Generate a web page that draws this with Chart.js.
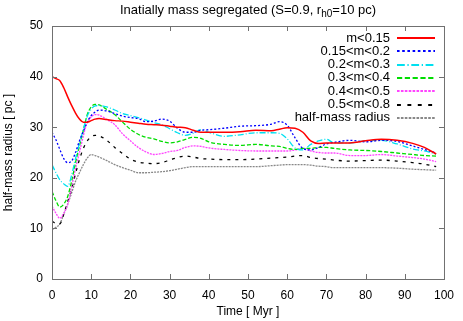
<!DOCTYPE html>
<html>
<head>
<meta charset="utf-8">
<script src="https://cdn.jsdelivr.net/npm/chart.js@4.4.1/dist/chart.umd.min.js"></script>
<style>
  html, body { margin: 0; padding: 0; background: #fff; }
  canvas { display: block; }
</style>
</head>
<body>
<canvas id="radiusChart" width="463" height="321"></canvas>
<script>
// time axis (Myr), shared by all series
const times = [0,1,2,3,4,5,6,7,8,9,10,11,12,14,16,18,20,22,24,26,28,30,32,34,36,38,40,44,48,52,56,58,60,62,64,66,68,70,72,76,80,84,88,92,95,98];

// radius per mass bin (pc)
const m015 = [40.0,39.6,39.2,37.8,36.0,34.3,32.8,31.6,31.0,31.0,31.3,31.6,31.7,31.5,31.3,31.2,31.0,30.8,30.6,30.5,30.4,30.2,30.0,29.9,29.4,29.0,29.0,29.0,29.1,29.4,29.3,29.6,29.9,29.8,29.0,27.3,26.8,26.9,26.9,26.9,27.3,27.6,27.4,26.8,26.0,24.7];
const m015_02 = [29.0,27.5,25.6,23.8,23.0,23.3,25.0,27.3,29.2,31.0,32.3,33.0,33.4,33.2,32.7,32.2,31.9,31.7,31.1,31.2,31.6,31.2,29.8,29.0,29.0,29.4,29.5,29.8,30.2,30.3,30.6,31.1,30.4,27.9,25.8,25.5,26.0,26.7,27.0,27.4,27.1,27.4,27.2,26.3,25.6,24.9];
const m02_03 = [22.6,21.0,19.6,18.8,18.3,20.5,23.8,26.8,29.6,32.2,33.6,34.2,34.3,34.0,33.4,32.7,32.3,31.9,31.4,30.9,30.5,29.7,28.9,28.4,28.8,29.5,29.0,28.2,28.5,28.9,28.9,28.8,27.7,25.9,25.5,26.6,27.3,27.6,26.9,26.9,27.3,27.4,26.7,25.7,25.3,24.7];
const m03_04 = [17.3,15.5,14.2,14.8,16.3,19.3,23.0,26.3,29.4,32.5,34.0,34.5,34.4,33.5,32.5,31.0,29.6,28.6,28.0,27.7,27.2,26.9,27.1,27.6,28.0,27.8,27.1,26.6,26.4,26.6,26.3,26.2,25.8,25.6,25.8,25.8,26.0,26.0,25.8,25.5,25.4,25.2,24.9,24.6,24.4,24.3];
const m04_05 = [14.4,13.0,12.0,13.0,14.7,18.2,21.8,25.0,28.3,31.0,32.0,32.5,32.4,31.5,30.5,28.7,27.3,26.0,25.1,24.6,24.8,25.2,25.4,26.0,26.3,26.2,25.9,25.6,25.4,25.3,25.3,25.3,25.3,25.5,25.8,25.3,25.0,24.9,24.9,24.4,24.4,24.6,24.3,24.0,23.7,23.2];
const m05_08 = [11.4,11.0,10.9,12.8,15.3,17.8,20.8,23.6,25.8,27.3,28.1,28.4,28.3,27.4,26.0,24.8,23.7,23.1,22.9,22.8,23.0,23.5,24.0,24.3,24.1,23.8,23.7,23.6,23.6,23.7,23.9,24.0,24.1,24.3,24.4,24.0,23.8,23.7,23.5,23.3,23.4,23.5,23.3,23.0,22.7,22.2];
const halfMass = [9.8,10.2,10.9,12.8,14.8,17.0,19.3,21.0,22.6,23.9,24.6,24.4,24.1,23.4,22.6,22.0,21.5,21.0,21.0,21.1,21.2,21.4,21.7,22.0,22.2,22.2,22.2,22.2,22.2,22.2,22.4,22.5,22.6,22.6,22.6,22.5,22.3,22.2,22.0,22.0,22.0,22.0,21.9,21.7,21.6,21.5];

const xTicks = [0,10,20,30,40,50,60,70,80,90,100];
const yTicks = [0,10,20,30,40,50];

const FONT = 'Liberation Sans, Arial, sans-serif';

function series(label, values, color, dash, width) {
    return {
        label: label,
        data: times.map((t, i) => ({ x: t, y: values[i] })),
        borderColor: color,
        backgroundColor: color,
        borderDash: dash,
        borderWidth: width || 1.3,
        pointRadius: 0,
        fill: false,
        tension: 0.4,
        cubicInterpolationMode: 'monotone'
    };
}

// gnuplot-style: title with subscript, legend inside, inward mirrored ticks
const gnuplotLook = {
    id: 'gnuplotLook',
    afterDraw(chart) {
        const c = chart.ctx;
        const a = chart.chartArea;
        const xs = chart.scales.x, ys = chart.scales.y;
        c.save();

        // frame + inward ticks
        c.strokeStyle = '#707070';
        c.lineWidth = 1;
        c.beginPath();
        xTicks.forEach(v => {
            const px = Math.round(xs.getPixelForValue(v)) + 0.5;
            c.moveTo(px, a.bottom); c.lineTo(px, a.bottom - 5);
            c.moveTo(px, a.top); c.lineTo(px, a.top + 5);
        });
        yTicks.forEach(v => {
            const py = Math.round(ys.getPixelForValue(v)) + 0.5;
            c.moveTo(a.left, py); c.lineTo(a.left + 5, py);
            c.moveTo(a.right, py); c.lineTo(a.right - 5, py);
        });
        c.stroke();
        c.strokeRect(a.left + 0.5, a.top + 0.5, a.right - a.left, a.bottom - a.top);

        // title
        c.fillStyle = '#000';
        c.textBaseline = 'alphabetic';
        const t1 = 'Inatially mass segregated (S=0.9, r';
        const sub = 'h0';
        const t3 = '=10 pc)';
        c.font = '13px ' + FONT;
        const w1 = c.measureText(t1).width, w3 = c.measureText(t3).width;
        c.font = '10px ' + FONT;
        const w2 = c.measureText(sub).width;
        let x = (a.left + a.right) / 2 - (w1 + w2 + w3) / 2;
        const base = 14;
        c.textAlign = 'left';
        c.font = '13px ' + FONT;
        c.fillText(t1, x, base); x += w1;
        c.font = '10px ' + FONT;
        c.fillText(sub, x, base + 3); x += w2;
        c.font = '13px ' + FONT;
        c.fillText(t3, x, base);

        // legend
        c.font = '13px ' + FONT;
        c.textAlign = 'right';
        c.textBaseline = 'middle';
        chart.data.datasets.forEach((ds, i) => {
            const y = 38 + i * 13.3;
            c.fillStyle = '#000';
            c.fillText(ds.label, 390, y);
            c.strokeStyle = ds.borderColor;
            c.lineWidth = 2;
            c.setLineDash(ds.borderDash.map(d => d * 1.3));
            c.beginPath();
            c.moveTo(397, Math.round(y));
            c.lineTo(435, Math.round(y));
            c.stroke();
        });
        c.restore();
    }
};

const ctx = document.getElementById('radiusChart').getContext('2d');
const radiusChart = new Chart(ctx, {
    type: 'line',
    data: {
        datasets: [
            series('m<0.15', m015, '#ff0000', [], 1.5),
            series('0.15<m<0.2', m015_02, '#0000ff', [2, 2]),
            series('0.2<m<0.3', m02_03, '#00e0f0', [6, 2, 1, 2]),
            series('0.3<m<0.4', m03_04, '#00dd00', [4, 2]),
            series('0.4<m<0.5', m04_05, '#ff44ff', [2, 1]),
            series('0.5<m<0.8', m05_08, '#000000', [3, 5]),
            series('half-mass radius', halfMass, '#888888', [2, 1])
        ]
    },
    plugins: [gnuplotLook],
    options: {
        responsive: false,
        animation: false,
        layout: { padding: { top: 26, right: 11, left: 0, bottom: 0 } },
        plugins: {
            legend: { display: false },
            tooltip: { enabled: false }
        },
        scales: {
            x: {
                type: 'linear',
                min: 0,
                max: 100,
                afterBuildTicks: s => { s.ticks = xTicks.map(v => ({ value: v })); },
                afterFit: s => { s.height = 42; },
                grid: { display: false, drawTicks: false },
                border: { display: false },
                ticks: { color: '#000', padding: 9, font: { family: FONT, size: 12 } },
                title: {
                    display: true,
                    text: 'Time [ Myr ]',
                    color: '#000',
                    padding: { top: 0, bottom: 2 },
                    font: { family: FONT, size: 12 }
                }
            },
            y: {
                min: 0,
                max: 50,
                afterBuildTicks: s => { s.ticks = yTicks.map(v => ({ value: v })); },
                afterFit: s => { s.width = 52; },
                grid: { display: false, drawTicks: false },
                border: { display: false },
                ticks: { color: '#000', padding: 9, font: { family: FONT, size: 12 } },
                title: {
                    display: true,
                    text: 'half-mass radius [ pc ]',
                    color: '#000',
                    padding: { top: 1, bottom: 0 },
                    font: { family: FONT, size: 12 }
                }
            }
        }
    }
});
</script>
</body>
</html>
